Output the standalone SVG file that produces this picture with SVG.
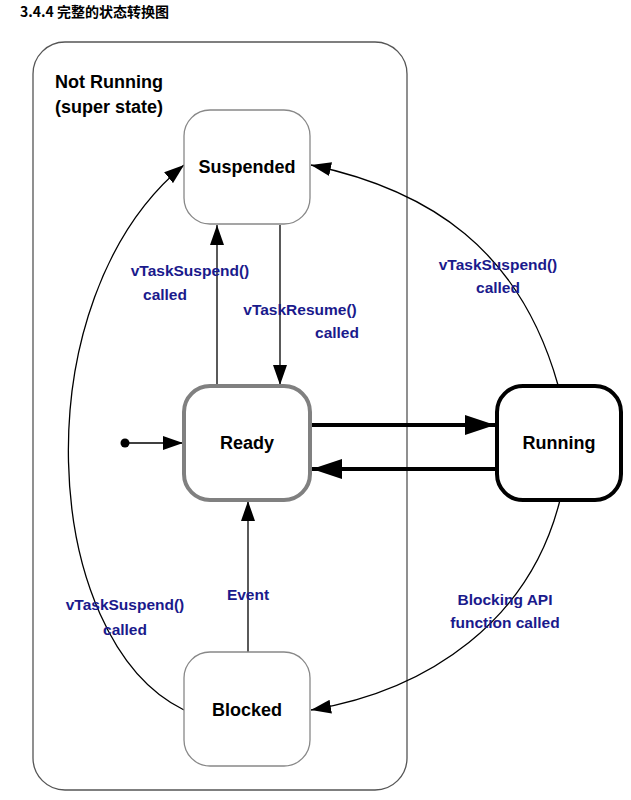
<svg xmlns="http://www.w3.org/2000/svg" width="631" height="800" viewBox="0 0 631 800">
<style>
.n{fill:#fff;stroke:#888;stroke-width:1.3}
.t{font-family:"Liberation Sans",Arial,sans-serif;font-weight:bold;font-size:18px;text-anchor:middle;fill:#000}
.l{font-family:"Liberation Sans",Arial,sans-serif;font-weight:bold;font-size:15.5px;text-anchor:middle;fill:#1a1a8c}
.c{fill:none;stroke:#000;stroke-width:1.3}
</style>
<defs>
<marker id="a" markerWidth="20" markerHeight="14" refX="20" refY="7" orient="auto" markerUnits="userSpaceOnUse"><path d="M0,0L20,7L0,14z" fill="#000"/></marker>
<marker id="b" markerWidth="30" markerHeight="20" refX="30" refY="10" orient="auto" markerUnits="userSpaceOnUse"><path d="M0,0L30,10L0,20z" fill="#000"/></marker>
</defs>
<rect width="631" height="800" fill="#fff"/>
<text x="20" y="17" font-family="'Noto Sans CJK SC','Noto Sans',sans-serif" font-weight="bold" font-size="14">3.4.4 完整的状态转换图</text>
<g id="super"><rect x="33" y="42" width="374" height="748" rx="32" fill="none" stroke="#555" stroke-width="1.3"/>
<text x="55" y="88" font-family="'Liberation Sans',Arial,sans-serif" font-weight="bold" font-size="18">Not Running</text>
<text x="55" y="113" font-family="'Liberation Sans',Arial,sans-serif" font-weight="bold" font-size="18">(super state)</text></g>
<g id="connectors">
<circle cx="125" cy="443" r="4.5" fill="#000"/>
<path class="c" d="M125,443H183" marker-end="url(#a)"/>
<path class="c" d="M217,385V225" marker-end="url(#a)"/>
<path class="c" d="M280,225V385" marker-end="url(#a)"/>
<path class="c" d="M248,652V501" marker-end="url(#a)"/>
<path d="M311,425H495" fill="none" stroke="#000" stroke-width="4" marker-end="url(#b)"/>
<path d="M496,469H312" fill="none" stroke="#000" stroke-width="4" marker-end="url(#b)"/>
<path class="c" d="M184,710C40,640 20,300 184,165" marker-end="url(#a)"/>
<path class="c" d="M558,385C520,250 430,190 311,165" marker-end="url(#a)"/>
<path class="c" d="M560,500C530,620 430,690 311,710" marker-end="url(#a)"/>
</g>
<g id="suspended"><rect class="n" x="184" y="110" width="126" height="114" rx="26"/><text class="t" x="247" y="173">Suspended</text></g>
<g id="ready"><rect x="184" y="386" width="126" height="114" rx="26" fill="#fff" stroke="#808080" stroke-width="4"/><text class="t" x="247" y="449">Ready</text></g>
<g id="running"><rect x="497" y="386" width="124" height="114" rx="26" fill="#fff" stroke="#000" stroke-width="4"/><text class="t" x="559" y="449">Running</text></g>
<g id="blocked"><rect class="n" x="184" y="652" width="126" height="114" rx="26"/><text class="t" x="247" y="716">Blocked</text></g>
<g id="labels">
<text class="l" x="190" y="276">vTaskSuspend()</text><text class="l" x="165" y="300">called</text>
<text class="l" x="300" y="315">vTaskResume()</text><text class="l" x="337" y="338">called</text>
<text class="l" x="498" y="270">vTaskSuspend()</text><text class="l" x="498" y="293">called</text>
<text class="l" x="125" y="610">vTaskSuspend()</text><text class="l" x="125" y="635">called</text>
<text class="l" x="248" y="600">Event</text>
<text class="l" x="505" y="605">Blocking API</text><text class="l" x="505" y="628">function called</text>
</g>
</svg>
